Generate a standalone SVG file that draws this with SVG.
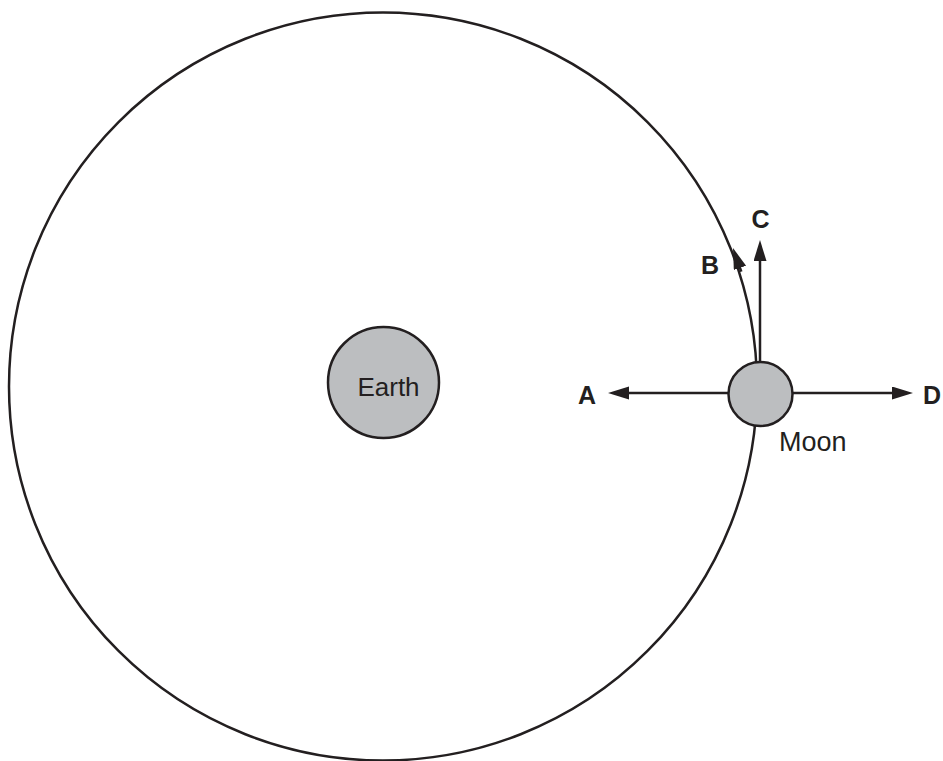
<svg xmlns="http://www.w3.org/2000/svg" width="943" height="761" viewBox="0 0 943 761">
<style>
.orbit{fill:none;stroke:#231f20;stroke-width:2.5}
.body{fill:#bcbec0;stroke:#231f20;stroke-width:2.5}
.arrow{stroke:#231f20;stroke-width:2.5;fill:none;marker-end:url(#ah)}
.lbl{font-family:"Liberation Sans",Arial,sans-serif;font-size:26px;fill:#231f20}
.bold{font-family:"Liberation Sans",Arial,sans-serif;font-size:25px;font-weight:bold;fill:#231f20}
</style>
<defs>
<marker id="ah" markerUnits="userSpaceOnUse" markerWidth="24" markerHeight="14" refX="2" refY="6.5" orient="auto">
<path d="M0,0 L21,6.5 L0,13 z" fill="#231f20"/>
</marker>
</defs>
<rect width="943" height="761" fill="#ffffff"/>
<g id="orbit"><circle class="orbit" cx="383" cy="386.5" r="374"/></g>
<g id="connectors">
<path class="arrow" d="M741.3,271.7 L739.3,266"/>
<line class="arrow" x1="760" y1="362" x2="760" y2="259"/>
<line class="arrow" x1="728" y1="393" x2="627" y2="393"/>
<line class="arrow" x1="793" y1="393" x2="894" y2="393"/>
</g>
<g id="earth">
<circle class="body" cx="383.5" cy="382.5" r="55.5"/>
<text class="lbl" x="388.5" y="396" text-anchor="middle">Earth</text>
</g>
<g id="moon">
<circle class="body" cx="760.5" cy="394" r="32"/>
<text class="lbl" x="779" y="451" style="font-size:27px">Moon</text>
</g>
<g id="labels">
<text class="bold" x="578" y="404">A</text>
<text class="bold" x="701" y="274">B</text>
<text class="bold" x="760.5" y="228" text-anchor="middle">C</text>
<text class="bold" x="923" y="404">D</text>
</g>
</svg>
